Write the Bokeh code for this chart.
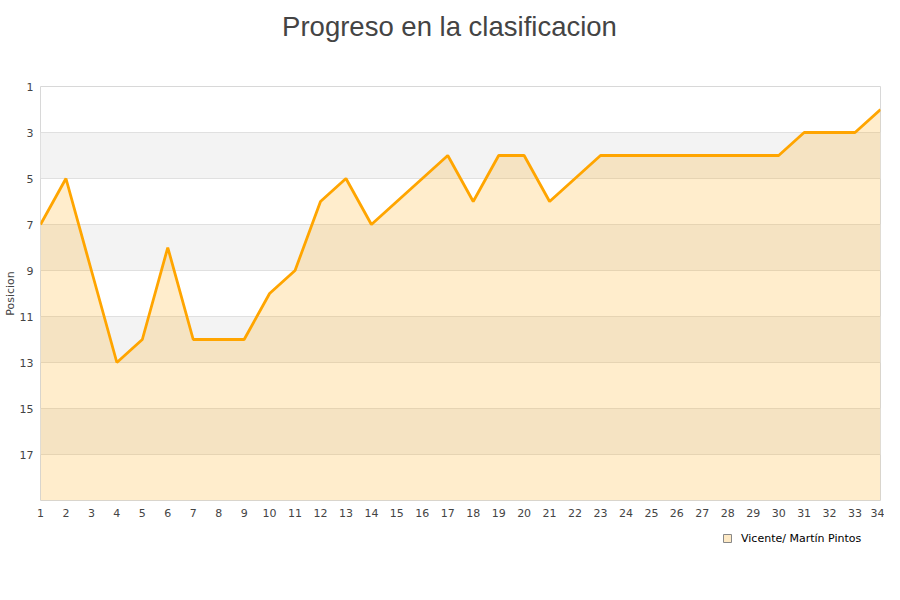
from bokeh.plotting import figure
from bokeh.layouts import column
from bokeh.models import Range1d, FixedTicker, Legend, LegendItem, ColumnDataSource, Label
from bokeh.embed import file_html
from bokeh.resources import INLINE

jornadas = list(range(1, 35))
posicion = [7, 5, 9, 13, 12, 8, 12, 12, 12, 10, 9, 6, 5, 7, 6, 5, 4, 6, 4, 4,
            6, 5, 4, 4, 4, 4, 4, 4, 4, 4, 3, 3, 3, 2]
y_ticks = [1, 3, 5, 7, 9, 11, 13, 15, 17]
y_bottom = 19
serie = "Vicente/ Martín Pintos"
titulo = "Progreso en la clasificacion"

src = ColumnDataSource(dict(x=jornadas, y=posicion, y2=[y_bottom] * len(jornadas)))

def strip(h):
    f = figure(width=884, height=h, output_backend="svg", toolbar_location=None,
               x_range=Range1d(1000, 1001), y_range=Range1d(1000, 1001),
               x_axis_location=None, y_axis_location=None, min_border=0)
    f.grid.visible = False
    f.outline_line_color = None
    f.border_fill_color = "white"
    f.background_fill_color = "white"
    return f

# title strip
pt = strip(80)
pt.add_layout(Label(x=409, y=54, x_units="screen", y_units="screen", text=titulo,
                    text_align="center", text_baseline="alphabetic",
                    text_font="Liberation Sans", text_font_size="27.5px",
                    text_color="#444444"))

p = figure(width=884, height=444, output_backend="svg", toolbar_location=None,
           x_range=Range1d(1, 34), y_range=Range1d(y_bottom, 1),
           min_border_left=40, min_border_right=4, min_border_top=6, min_border_bottom=24)

p.outline_line_color = "#d8d8d8"
p.outline_line_width = 1
p.background_fill_color = "white"
p.border_fill_color = "white"

p.xgrid.grid_line_color = None
p.ygrid.ticker = FixedTicker(ticks=y_ticks)
p.ygrid.grid_line_color = "#e0e0e0"
p.ygrid.band_fill_color = "#f3f3f3"
p.ygrid.band_fill_alpha = 1.0

p.xaxis.ticker = FixedTicker(ticks=jornadas)
p.yaxis.ticker = FixedTicker(ticks=y_ticks)
for ax in (p.xaxis, p.yaxis):
    ax.axis_line_color = None
    ax.major_tick_line_color = None
    ax.minor_tick_line_color = None
    ax.major_tick_out = 0
    ax.major_tick_in = 0
    ax.major_label_text_font = "DejaVu Sans"
    ax.major_label_text_font_size = "11px"
    ax.major_label_text_color = "#444444"
p.xaxis.major_label_standoff = 8
p.yaxis.major_label_standoff = 7
p.yaxis.axis_label = "Posicion"
p.yaxis.axis_label_text_font = "DejaVu Sans"
p.yaxis.axis_label_text_font_size = "11px"
p.yaxis.axis_label_text_font_style = "normal"
p.yaxis.axis_label_text_color = "#444444"
p.yaxis.axis_label_standoff = 0

p.varea(x="x", y1="y", y2="y2", source=src, fill_color="#ffa500", fill_alpha=0.2)
p.line(x="x", y="y", source=src, line_color="#ffa500", line_width=2.8)

# legend strip below the chart (its frame is aligned with the chart's frame)
pl = strip(60)
swatch = pl.scatter(x="x", y="y", source=src, marker="square", size=8,
                    fill_color="#fde9c5", line_color="#888888", line_width=1)
legend = Legend(items=[LegendItem(label=serie, renderers=[swatch])],
                location=(677, 36), orientation="horizontal",
                glyph_width=20, glyph_height=20, label_standoff=4,
                padding=0, margin=0, spacing=0,
                border_line_color=None, background_fill_alpha=0,
                label_text_font="DejaVu Sans", label_text_font_size="11px",
                label_text_color="#000000", label_height=20)
pl.add_layout(legend)

layout = column(pt, p, pl, spacing=0)
open("out.html", "w").write(file_html(layout, INLINE))
